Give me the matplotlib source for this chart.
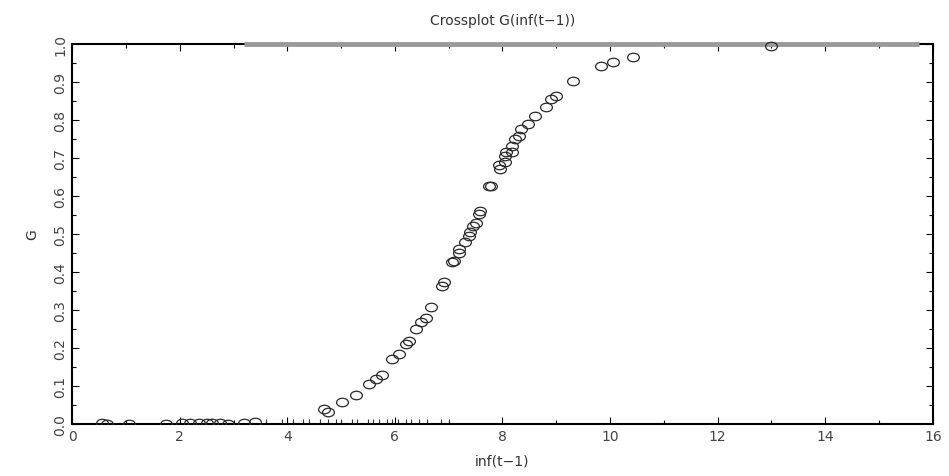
import matplotlib
matplotlib.use('Agg')
import matplotlib.pyplot as plt
import numpy as np
from matplotlib.ticker import MultipleLocator
from matplotlib.path import Path
from matplotlib.transforms import Affine2D

# puntos cerca de cero (parte baja)
x_bajo = [0.55, 0.65, 1.05, 1.75, 2.05, 2.2, 2.35, 2.5, 2.6, 2.75, 2.9, 3.2, 3.4]
g_bajo = [0.002, 0.001, 0.001, 0.001, 0.002, 0.002, 0.003, 0.002, 0.002, 0.002, 0.001, 0.003, 0.006]

# marcas pequenas sobre el eje
x_marcas = [3.6, 3.9, 4.1, 4.3, 4.4, 4.6, 4.75, 4.9, 5.0, 5.2, 5.3, 5.5, 5.6,
            5.7, 5.85, 5.95, 6.05, 6.2, 6.3, 6.45, 6.6, 6.85, 7.0]

# curva principal
x_curva = [4.69, 4.75, 5.02, 5.28, 5.52, 5.65, 5.76, 5.94, 6.07, 6.2, 6.26,
           6.39, 6.48, 6.57, 6.67, 6.87, 6.91, 7.06, 7.09, 7.19, 7.2, 7.31,
           7.37, 7.4, 7.46, 7.5, 7.56, 7.59, 7.74, 7.78, 7.93, 7.96, 8.05,
           8.05, 8.07, 8.17, 8.17, 8.24, 8.3, 8.35, 8.48, 8.6, 8.8, 8.9,
           9.0, 9.31, 9.84, 10.05, 10.43, 13.0]
g_curva = [0.039, 0.032, 0.058, 0.076, 0.105, 0.118, 0.13, 0.17, 0.184, 0.21,
           0.218, 0.25, 0.268, 0.28, 0.307, 0.363, 0.373, 0.426, 0.43, 0.45,
           0.46, 0.48, 0.495, 0.505, 0.52, 0.53, 0.553, 0.56, 0.626, 0.627,
           0.68, 0.67, 0.69, 0.705, 0.716, 0.716, 0.73, 0.75, 0.757, 0.776,
           0.79, 0.81, 0.834, 0.855, 0.863, 0.903, 0.942, 0.952, 0.966, 0.995]

# linea gris en G = 1
x_linea = [3.2, 15.75]
g_linea = [1.0, 1.0]

yticks = [0.0, 0.1, 0.2, 0.3, 0.4, 0.5, 0.6, 0.7, 0.8, 0.9, 1.0]
xticks = [0, 2, 4, 6, 8, 10, 12, 14, 16]

# marcador eliptico (un poco aplastado)
elipse = Path.unit_circle().transformed(Affine2D().scale(1.0, 0.72))

fig = plt.figure(figsize=(9.49, 4.77), dpi=100)
ax = fig.add_axes([0.076, 0.109, 0.907, 0.797])

ax.plot(x_linea, g_linea, color='#9a9a9a', lw=3.5, solid_capstyle='butt',
        zorder=4, clip_on=False)
ax.plot(x_bajo, g_bajo, ls='none', marker=elipse, mfc='none', mec='#2a2a2a',
        ms=8.5, mew=0.9, zorder=3)
ax.plot(x_curva, g_curva, ls='none', marker=elipse, mfc='none', mec='#2a2a2a',
        ms=8.5, mew=0.9, zorder=5, clip_on=False)
ax.plot(x_marcas, [0.006] * len(x_marcas), '|', color='#333333', ms=4, mew=0.8)

ax.set_xlim(0, 16)
ax.set_ylim(0, 1)
ax.set_xticks(xticks)
ax.set_xticklabels([str(v) for v in xticks])
ax.set_yticks(yticks)
ax.set_yticklabels([f'{v:.1f}' for v in yticks], rotation=90, va='center')
ax.xaxis.set_minor_locator(MultipleLocator(1))
ax.yaxis.set_minor_locator(MultipleLocator(0.05))
ax.tick_params(which='both', direction='in', top=True, right=True,
               labelsize=10, labelcolor='#444444', width=0.8)
ax.tick_params(which='major', length=5)
ax.tick_params(which='minor', length=3)
for s in ax.spines.values():
    s.set_linewidth(1.5)

ax.set_title('Crossplot G(inf(t\u22121))', fontsize=10, color='#333333', pad=14)
ax.set_xlabel('inf(t\u22121)', fontsize=10, color='#333333', labelpad=8)
ax.set_ylabel('G', fontsize=10, color='#333333', labelpad=10)

fig.savefig('out.png', dpi=100)
